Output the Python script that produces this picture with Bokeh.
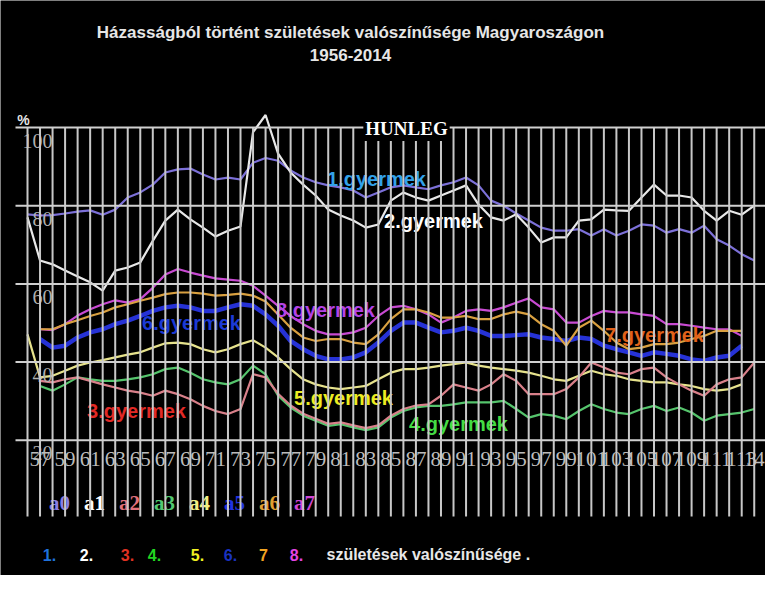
from bokeh.plotting import figure
from bokeh.models import Range1d, Label
from bokeh.core.properties import value
from bokeh.embed import file_html
from bokeh.resources import INLINE

# ---------------- data ----------------
years_a0 = list(range(1956, 2015))
a0 = [77.8, 77.5, 77.6, 78.0, 78.5, 78.8, 77.7, 79.0, 82.1, 83.4,
      85.4, 88.5, 89.3, 89.5, 88.0, 86.7, 87.2, 86.7, 91.0, 92.2,
      91.5, 89.0, 87.2, 86.0, 85.2, 84.7, 83.9, 82.1, 83.4, 84.7,
      85.2, 84.7, 84.2, 85.2, 86.0, 87.2, 85.2, 81.3, 80.0, 78.0,
      76.2, 74.4, 73.6, 73.6, 74.0, 72.4, 74.0, 72.4, 73.6, 75.2,
      74.9, 73.1, 74.0, 73.1, 74.9, 71.4, 69.8, 67.6, 66.0]

years_a1 = list(range(1956, 2015))
a1 = [77.0, 66.0, 65.0, 63.4, 61.9, 60.4, 58.3, 63.4, 64.2, 65.5,
      71.0, 76.2, 79.0, 76.5, 74.4, 72.1, 73.6, 74.7, 98.8, 103.2,
      93.3, 88.5, 85.4, 82.6, 79.0, 77.5, 76.2, 74.4, 75.2, 81.3,
      83.4, 82.1, 81.3, 82.6, 83.9, 85.2, 80.3, 77.0, 76.2, 77.8,
      74.4, 70.6, 71.9, 71.9, 76.2, 76.5, 79.0, 78.8, 78.7, 82.1,
      85.4, 82.6, 82.6, 82.1, 78.7, 76.2, 78.7, 77.7, 80.0]

years_a2 = list(range(1957, 2015))
a2 = [35.2, 34.8, 35.6, 36.1, 35.2, 34.3, 33.5, 32.7, 32.2, 31.4,
      32.7, 31.8, 30.5, 28.8, 27.5, 26.7, 28.0, 36.9, 36.1, 31.9,
      28.9, 26.8, 25.5, 24.2, 24.6, 23.8, 23.1, 23.8, 26.3, 28.0,
      28.9, 29.2, 31.4, 34.3, 33.5, 32.7, 34.3, 36.9, 35.2, 31.8,
      31.8, 31.8, 33.1, 36.1, 39.9, 38.6, 37.3, 36.9, 38.2, 38.6,
      36.1, 34.3, 32.7, 31.4, 34.3, 35.6, 36.1, 39.9]

years_a3 = list(range(1957, 2015))
a3 = [33.9, 32.7, 34.3, 36.1, 35.6, 35.2, 35.2, 35.6, 36.1, 36.9,
      38.2, 38.6, 37.3, 35.6, 34.8, 34.3, 35.6, 39.1, 36.9, 31.4,
      28.4, 26.3, 25.0, 23.7, 24.1, 23.3, 22.6, 23.3, 25.8, 27.5,
      28.4, 28.8, 28.8, 29.2, 29.7, 29.7, 29.7, 30.1, 28.0, 25.8,
      26.7, 26.3, 25.4, 27.5, 29.2, 28.0, 27.1, 26.7, 28.0, 28.8,
      27.5, 28.4, 27.1, 25.0, 26.3, 26.7, 27.1, 28.0]

years_a4 = list(range(1956, 2014))
a4 = [47.1, 36.1, 36.5, 37.8, 39.1, 39.9, 40.5, 41.2, 41.9, 42.5,
      43.7, 44.8, 45.0, 44.6, 43.3, 42.5, 43.3, 44.6, 45.6, 43.7,
      41.2, 38.2, 35.6, 34.3, 33.5, 33.1, 33.5, 33.9, 35.6, 37.3,
      38.2, 38.2, 38.6, 39.1, 39.5, 39.9, 39.1, 38.6, 38.2, 37.8,
      37.3, 36.5, 35.6, 35.2, 36.5, 37.8, 36.9, 36.5, 35.6, 35.2,
      34.8, 34.8, 34.3, 33.9, 33.1, 32.7, 33.1, 34.3]

years_a5 = list(range(1957, 2014))
a5 = [45.9, 43.7, 44.2, 46.3, 47.6, 48.4, 49.7, 50.6, 51.8, 53.1,
      54.0, 54.4, 54.0, 53.1, 53.1, 54.0, 54.8, 54.4, 52.2, 49.3,
      45.4, 43.3, 41.6, 40.7, 40.7, 41.2, 42.5, 45.0, 48.0, 50.1,
      50.1, 48.8, 47.6, 48.0, 48.8, 48.0, 46.7, 46.7, 46.9, 47.1,
      46.3, 45.9, 45.4, 46.3, 45.9, 44.2, 43.3, 42.5, 41.6, 42.5,
      42.1, 41.6, 40.7, 40.3, 41.2, 41.6, 44.2]

years_a6 = list(range(1957, 2014))
a6 = [48.4, 48.4, 49.7, 50.7, 51.8, 52.7, 54.0, 54.8, 55.7, 56.5,
      57.4, 57.8, 57.8, 57.5, 57.0, 57.2, 57.5, 57.0, 55.5, 52.2,
      48.8, 46.3, 45.4, 45.9, 45.9, 45.0, 44.6, 47.1, 51.0, 53.5,
      53.5, 52.7, 51.4, 51.4, 51.8, 51.0, 51.0, 52.2, 52.9, 52.2,
      49.7, 48.0, 44.2, 48.8, 50.6, 48.0, 45.0, 43.3, 43.7, 44.6,
      44.6, 45.0, 45.9, 46.7, 48.0, 48.0, 48.0]

years_a7 = list(range(1957, 2014))
a7 = [48.4, 48.2, 49.7, 51.9, 53.5, 54.8, 55.8, 55.2, 56.1, 59.0,
      62.4, 63.8, 62.9, 62.1, 61.4, 61.1, 60.8, 59.5, 57.0, 54.4,
      51.8, 49.7, 48.0, 47.1, 47.1, 47.6, 48.8, 51.8, 54.0, 54.4,
      53.5, 52.2, 50.1, 51.4, 53.1, 53.5, 53.1, 54.0, 55.2, 56.3,
      54.0, 53.5, 50.1, 50.1, 51.8, 53.1, 52.7, 52.7, 52.2, 51.8,
      49.7, 49.7, 49.3, 48.8, 48.4, 48.4, 46.7]

grid_years = list(range(1956, 2015))
y_ticks = [100, 80, 60, 40, 20]
y_tick_labels = ["100", "80", "60", "40", "20"]
x_tick_years = list(range(1957, 2014, 2)) + [2014]
x_tick_labels = [str(y - 1900) for y in range(1957, 2014, 2)] + ["14"]

series_names = ["a0", "a1", "a2", "a3", "a4", "a5", "a6", "a7"]
legend_nums = ["1.", "2.", "3.", "4.", "5.", "6.", "7", "8."]
title1 = "Házasságból történt születések valószínűsége Magyaroszágon"
title2 = "1956-2014"

# ---------------- layout helpers (page pixel -> data) ----------------
W, H = 765, 575
PPY = 12.53   # px per year
PPV = 3.91    # px per percentage point


def fx(px):
    return 1956 + (px - 35) / PPY


def fy(py):
    return 100 - (py - 135) / PPV


p = figure(width=W, height=H, output_backend="svg", toolbar_location=None,
           x_range=Range1d(fx(8), fx(8 + W)), y_range=Range1d(fy(8 + H), fy(8)),
           x_axis_type=None, y_axis_type=None, min_border=0,
           background_fill_color="black", border_fill_color="black",
           outline_line_color=None)
p.grid.visible = False

# ---------------- series lines ----------------
line_specs = [
    (years_a5, a5, "#2632d6", 4.5),
    (years_a7, a7, "#c84ad2", 2.2),
    (years_a6, a6, "#d9a040", 2.2),
    (years_a4, a4, "#e6e28c", 2.2),
    (years_a3, a3, "#55c46c", 2.2),
    (years_a2, a2, "#d9808a", 2.2),
    (years_a0, a0, "#7c70d8", 2.2),
    (years_a1, a1, "#e8e8e8", 2.2),
]
for xs, ys, col, lw in line_specs:
    p.line(xs, ys, line_color=col, line_width=lw)

SANS = value("Liberation Sans")
SERIF = value("Liberation Serif")

# ---------------- in-plot series labels ----------------
lab_txt = ["1.gyermek", "2.gyermek", "8.gyermek", "6.gyermek",
           "7.gyermek", "3.gyermek", "5.gyermek", "4.gyermek"]
lab_px = [384, 441, 333, 199, 662, 144, 351, 466]
lab_py = [186, 228, 317, 330, 342, 418, 405, 431]
lab_col = ["#33a2ea", "#ffffff", "#b443e6", "#1c3ad6",
           "#e2621a", "#e22a26", "#ecec22", "#44dc44"]
p.text(x=[fx(v) for v in lab_px], y=[fy(v) for v in lab_py], text=lab_txt,
       text_color=lab_col, text_font=SANS, text_font_style="bold",
       text_font_size="20px", text_align="center", text_baseline="middle")

# y tick labels (below each grid line)
p.text(x=[fx(60)] * len(y_ticks), y=[v - 13 / PPV for v in y_ticks],
       text=y_tick_labels, text_color="#b0b0b0", text_font=SERIF,
       text_font_size="20px", text_align="right", text_baseline="middle")

# x tick labels
p.text(x=x_tick_years, y=[fy(466)] * len(x_tick_years), text=x_tick_labels,
       text_color="#bcbcbc", text_font=SERIF, text_font_size="21px",
       text_align="center", text_baseline="middle")

# a0..a7 row
a_cols = ["#8a7ee2", "#ffffff", "#e0707c", "#52c870",
          "#f0ee84", "#2234e0", "#e0a032", "#d046d4"]
p.text(x=[fx(67 + 35 * i) for i in range(8)], y=[fy(510)] * 8,
       text=series_names, text_color=a_cols, text_font=SERIF,
       text_font_style="bold", text_font_size="21px",
       text_align="center", text_baseline="middle")

# ---------------- grid (drawn on top, as in the original) ----------------
p.segment(x0=grid_years, y0=[100] * len(grid_years),
          x1=grid_years, y1=[fy(524)] * len(grid_years),
          line_color="#c8c8c8", line_width=2)
p.segment(x0=[fx(23)] * len(y_ticks), y0=y_ticks,
          x1=[fx(773)] * len(y_ticks), y1=y_ticks,
          line_color="#d0d0d0", line_width=2)

# ---------------- annotations ----------------
p.add_layout(Label(x=fx(358), y=fy(40), text=title1, text_color="#e6e6e6",
                   text_font="Liberation Sans", text_font_style="bold",
                   text_font_size="17px", text_align="center",
                   text_baseline="middle"))
p.add_layout(Label(x=fx(358), y=fy(62), text=title2, text_color="#e6e6e6",
                   text_font="Liberation Sans", text_font_style="bold",
                   text_font_size="17px", text_align="center",
                   text_baseline="middle"))
p.add_layout(Label(x=fx(31), y=fy(127), text="%", text_color="#e6e6e6",
                   text_font="Liberation Sans", text_font_style="bold",
                   text_font_size="14px", text_align="center",
                   text_baseline="middle"))
p.add_layout(Label(x=fx(414), y=fy(136), text="HUNLEG", text_color="#ffffff",
                   text_font="Liberation Serif", text_font_style="bold",
                   text_font_size="19px", text_align="center",
                   text_baseline="middle", background_fill_color="black",
                   padding=2))

leg_px = [57, 94, 135, 162, 205, 238, 271, 304]
leg_col = ["#1f72dc", "#ffffff", "#e23222", "#22d422",
           "#f2f222", "#1a32c0", "#f2a422", "#e444e4"]
p.text(x=[fx(v) for v in leg_px], y=[fy(562)] * 8, text=legend_nums,
       text_color=leg_col, text_font=SANS, text_font_style="bold",
       text_font_size="16px", text_align="center", text_baseline="middle")
p.text(x=[fx(334)], y=[fy(562)], text=["születések valószínűsége ."],
       text_color="#e8e8e8", text_font=SANS, text_font_style="bold",
       text_font_size="16px", text_align="left", text_baseline="middle")

open("out.html", "w").write(file_html(p, INLINE))
